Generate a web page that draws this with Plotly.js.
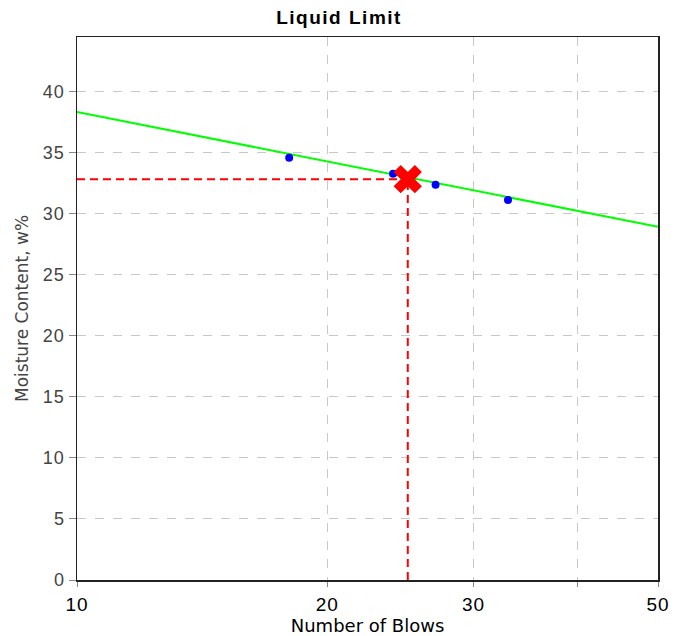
<!DOCTYPE html>
<html><head><meta charset="utf-8">
<script src="https://cdn.plot.ly/plotly-3.0.1.min.js"></script>
<style>body{margin:0;background:#fff}#c{width:685px;height:636px}
.xtick text,.ytick text{letter-spacing:1px}
.gtitle{letter-spacing:1.5px}
</style>
</head><body><div id="c"></div>
<script>
const blows = [18.0, 24.0, 27.0, 33.0];
const moisture = [34.6, 33.3, 32.4, 31.15];
const fitX = [10, 50];
const fitY = [38.35, 28.95];
const llBlows = 25;
const llMoisture = 32.85;
const xTickVals = [10, 20, 30, 40, 50];
const xTickText = ['10', '20', '30', '', '50'];
const yTickVals = [0, 5, 10, 15, 20, 25, 30, 35, 40];

const traces = [
  {x: fitX, y: fitY, mode: 'lines', line: {color: '#00ff00', width: 2}, hoverinfo: 'skip'},
  {x: [fitX[0], llBlows], y: [llMoisture, llMoisture], mode: 'lines', line: {color: '#ff0000', width: 2, dash: '8px,5px'}},
  {x: [llBlows, llBlows], y: [0, llMoisture], mode: 'lines', line: {color: '#ff0000', width: 2, dash: '8px,5px'}},
  {x: blows, y: moisture, mode: 'markers', marker: {color: '#0000ff', size: 8}},
  {x: [llBlows], y: [llMoisture], mode: 'markers', marker: {symbol: 'x', color: '#ff0000', size: 25, line: {width: 0}}}
];
const layout = {
  width: 685, height: 636,
  margin: {l: 77, r: 27, t: 37, b: 56},
  showlegend: false,
  paper_bgcolor: '#fff', plot_bgcolor: '#fff',
  font: {family: 'Liberation Sans, Arial, sans-serif'},
  title: {text: '<b>Liquid Limit</b>', x: 0.495, xanchor: 'center', y: 0.983, yanchor: 'top', font: {size: 19, color: '#000'}},
  xaxis: {
    type: 'log', range: [1, Math.log10(50)],
    tickvals: xTickVals, ticktext: xTickText,
    ticks: 'outside', ticklen: 5, tickcolor: '#888',
    ticklabelstandoff: 2,
    showgrid: true, gridcolor: '#c8c8c8', griddash: 'dash',
    showline: true, linecolor: '#222', linewidth: 1.5, mirror: true,
    zeroline: false,
    tickfont: {size: 19, color: '#000'},
    title: {text: 'Number of Blows', font: {family: 'DejaVu Sans, sans-serif', size: 18, color: '#000'}, standoff: 2}
  },
  yaxis: {
    range: [0, 44.5],
    tickvals: yTickVals,
    ticks: 'outside', ticklen: 7, tickcolor: '#888',
    showgrid: true, gridcolor: '#c8c8c8', griddash: 'dash',
    showline: true, linecolor: '#222', linewidth: 1.5, mirror: true,
    zeroline: false,
    tickfont: {size: 18, color: '#444'},
    title: {text: 'Moisture Content, w%', font: {family: 'DejaVu Sans, sans-serif', size: 17, color: '#444'}, standoff: 10}
  }
};
Plotly.newPlot('c', traces, layout, {displayModeBar: false, staticPlot: true});
</script></body></html>
